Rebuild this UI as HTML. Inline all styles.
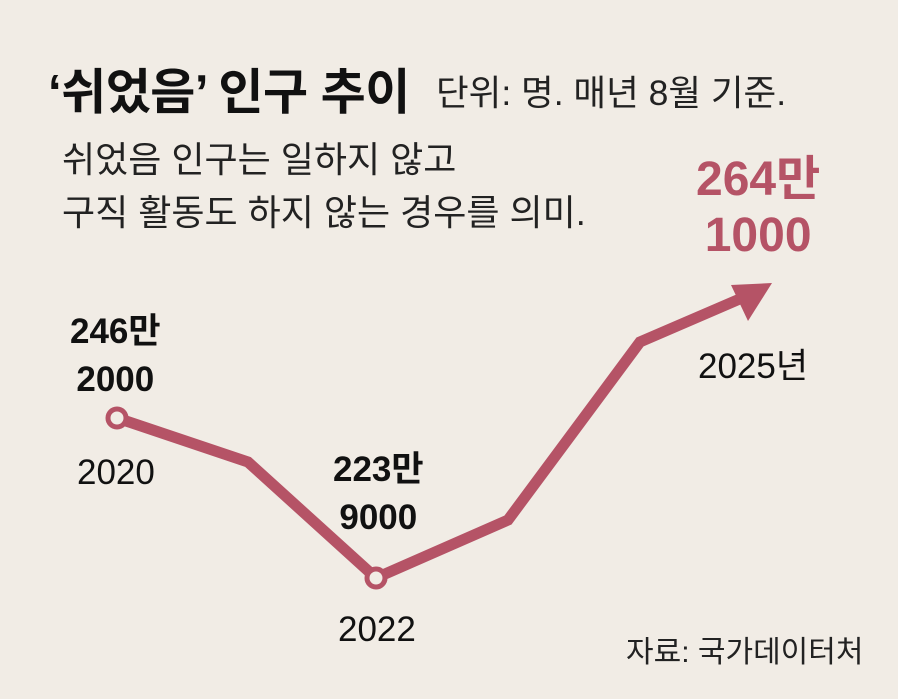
<!DOCTYPE html>
<html><head><meta charset="utf-8"><style>
body{margin:0;width:898px;height:699px;background:#f1ece5;overflow:hidden;font-family:"Liberation Sans","Noto Sans CJK KR",sans-serif;color:#111}
.t{position:absolute;white-space:nowrap}
</style></head><body>
<div class="t" style="left:48px;top:53px;font-size:49px;font-weight:bold;letter-spacing:-0.5px">‘쉬었음’ 인구 추이</div>
<div class="t" style="left:436px;top:65px;font-size:35.5px;color:#222">단위: 명. 매년 8월 기준.</div>
<div class="t" style="left:62px;top:133px;font-size:36px;line-height:53px;color:#222">쉬었음 인구는 일하지 않고<br>구직 활동도 하지 않는 경우를 의미.</div>
<div class="t" style="left:696px;top:152px;font-size:48px;font-weight:bold;color:#b55366;line-height:56px;text-align:center">264만<br>1000</div>
<div class="t" style="left:698px;top:338px;font-size:35px">2025년</div>
<div class="t" style="left:70px;top:308px;font-size:35px;font-weight:bold;line-height:48px;text-align:center">246만<br>2000</div>
<div class="t" style="left:77px;top:453px;font-size:35px">2020</div>
<div class="t" style="left:333px;top:446px;font-size:35px;font-weight:bold;line-height:48px;text-align:center">223만<br>9000</div>
<div class="t" style="left:338px;top:610px;font-size:35px">2022</div>
<div class="t" style="left:626px;top:627px;font-size:30px;color:#222">자료: 국가데이터처</div>
<svg width="898" height="699" style="position:absolute;left:0;top:0">
<polyline points="117,418 248,462 376,578 508,520 640,342 742,298" fill="none" stroke="#b55366" stroke-width="11" stroke-linejoin="miter"/>
<polygon points="772,283 731,285 748,321" fill="#b55366"/>
<circle cx="117" cy="418" r="9" fill="#f1ece5" stroke="#b55366" stroke-width="5"/>
<circle cx="376" cy="578" r="9" fill="#f1ece5" stroke="#b55366" stroke-width="5"/>
</svg>
</body></html>
